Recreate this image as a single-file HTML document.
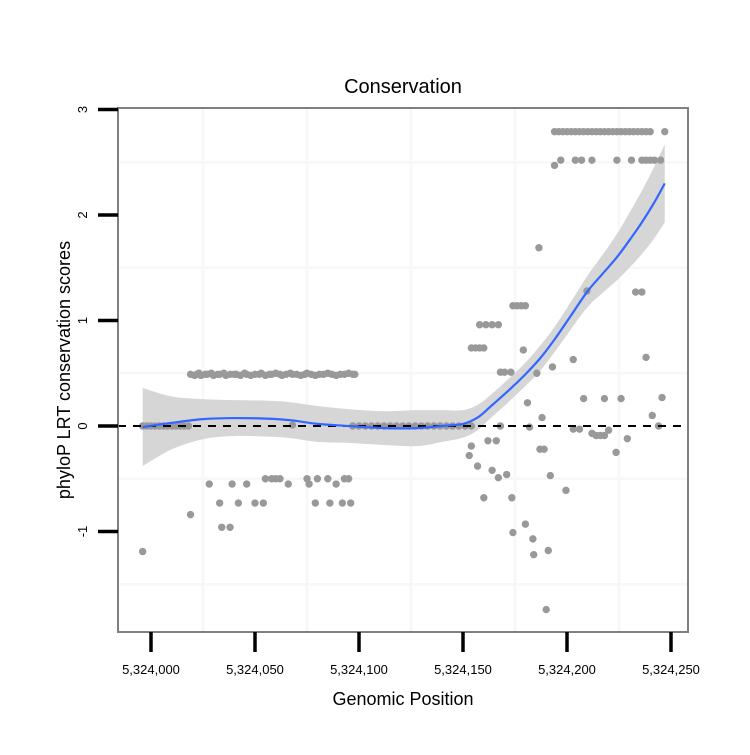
<!DOCTYPE html>
<html><head><meta charset="utf-8"><style>
body{margin:0;background:#fff}
svg text{font-family:"Liberation Sans",sans-serif}
</style></head><body>
<svg id="chart" width="750" height="750">
<rect width="750" height="750" fill="#fff"/>
<text x="403" y="93" font-size="20" text-anchor="middle">Conservation</text>
<text x="403" y="705" font-size="18" text-anchor="middle">Genomic Position</text>
<text transform="translate(70,370) rotate(-90)" font-size="18" text-anchor="middle">phyloP LRT conservation scores</text>
<g id="grid"></g><g id="band"></g><g id="pts"></g><g id="line"></g><g id="axes"></g>
</svg>
<script>
const xTicks=[5324000,5324050,5324100,5324150,5324200,5324250];
const xTickLabels=["5,324,000","5,324,050","5,324,100","5,324,150","5,324,200","5,324,250"];
const yTicks=[-1,0,1,2,3];
const yTickLabels=["-1","0","1","2","3"];
const xGrid=[5324025,5324075,5324125,5324175,5324225];
const yGrid=[-1.5,-0.5,0.5,1.5,2.5];
const ptPos=[-4,
19,21,22,23,24,26,27,29,30,32,33,35,36,38,40,41,43,45,46,48,50,52,53,55,57,58,60,62,63,65,67,68,70,72,74,75,77,79,81,83,85,87,89,91,93,95,97,98,
-4,-2,0,2,4,6,8,10,12,14,16,18,68,97,100,103,106,109,112,115,118,121,124,127,130,133,136,139,142,145,148,151,154,
28,39,46,55,58,60,62,66,75,76,80,85,89,93,95,
33,42,50,54,79,86,92,96,19,34,38,
194,196,198,200,202,204,206,208,210,212,214,216,218,220,222,224,226,228,230,232,234,236,238,240,247,
197,204,207,212,224,231,236,238,240,242,245,194,
186.5,209.6,233,236,174,176,178,180,158,161,164,167,154,156,158,160,179,203,238,168,170,173,185.5,193,
181,188,208,218,226,245.7,241,244,168,182,203,206,212,214,216,218,220,229,223.6,
154,153,162,166,157,164,167,171,187,189,192,199.5,160,173.5,180,174,183.6,184,191,190];
const ptVal=[-1.19,
0.49,0.48,0.49,0.5,0.48,0.49,0.49,0.5,0.48,0.49,0.49,0.5,0.48,0.49,0.49,0.49,0.48,0.5,0.49,0.48,0.49,0.49,0.5,0.48,0.49,0.49,0.5,0.49,0.48,0.49,0.5,0.49,0.49,0.48,0.49,0.5,0.49,0.48,0.49,0.49,0.5,0.49,0.48,0.49,0.49,0.5,0.49,0.49,
0,0,0,0,0,0,0,0,0,0,0,0,0.01,0,0,0,0,0,0,0,0,0,0,0,0,0,0,0,0,0,0,0,0,
-0.55,-0.55,-0.55,-0.5,-0.5,-0.5,-0.5,-0.55,-0.5,-0.55,-0.5,-0.5,-0.55,-0.5,-0.5,
-0.73,-0.73,-0.73,-0.73,-0.73,-0.73,-0.73,-0.73,-0.84,-0.96,-0.96,
2.79,2.79,2.79,2.79,2.79,2.79,2.79,2.79,2.79,2.79,2.79,2.79,2.79,2.79,2.79,2.79,2.79,2.79,2.79,2.79,2.79,2.79,2.79,2.79,2.79,
2.52,2.52,2.52,2.52,2.52,2.52,2.52,2.52,2.52,2.52,2.52,2.47,
1.69,1.28,1.27,1.27,1.14,1.14,1.14,1.14,0.96,0.96,0.96,0.96,0.74,0.74,0.74,0.74,0.72,0.63,0.65,0.51,0.51,0.51,0.5,0.56,
0.22,0.08,0.26,0.26,0.26,0.27,0.1,0,0,-0.01,-0.03,-0.03,-0.07,-0.09,-0.09,-0.09,-0.04,-0.12,-0.25,
-0.19,-0.28,-0.14,-0.14,-0.38,-0.42,-0.49,-0.46,-0.22,-0.22,-0.47,-0.61,-0.68,-0.68,-0.93,-1.01,-1.07,-1.22,-1.18,-1.74];
const fitPos=[-4,10,25,40,55,67,80,95,112,128,140,150,157,163,171,179,187,194,202,210,217,224,230,236,242,247];
const fitVal=[-0.01,0.03,0.065,0.075,0.07,0.055,0.02,0.0,-0.02,-0.02,0,0.02,0.08,0.18,0.32,0.47,0.64,0.82,1.05,1.28,1.44,1.6,1.76,1.93,2.12,2.3];
const fitSe=[0.37,0.25,0.19,0.17,0.17,0.17,0.17,0.16,0.16,0.17,0.15,0.13,0.12,0.11,0.11,0.11,0.12,0.12,0.13,0.15,0.18,0.22,0.26,0.3,0.34,0.37];
const X=p=>151+(p-(p>1000?5324000:0))*2.08;
const Y=v=>426-v*105.5;
const NS="http://www.w3.org/2000/svg";
function mk(parent,tag,attrs){const e=document.createElementNS(NS,tag);for(const k in attrs)e.setAttribute(k,attrs[k]);document.getElementById(parent).appendChild(e);return e;}
function smooth(pts){let d='M'+pts[0][0]+','+pts[0][1];for(let i=0;i<pts.length-1;i++){const p0=pts[i-1]||pts[i],p1=pts[i],p2=pts[i+1],p3=pts[i+2]||p2;
d+=' C'+(p1[0]+(p2[0]-p0[0])/6)+','+(p1[1]+(p2[1]-p0[1])/6)+' '+(p2[0]-(p3[0]-p1[0])/6)+','+(p2[1]-(p3[1]-p1[1])/6)+' '+p2[0]+','+p2[1];}return d;}
xGrid.forEach(g=>{const e=mk('grid','line',{x1:X(g),x2:X(g),y1:108,y2:632,stroke:'#f7f7f7','stroke-width':2.5});

});
yGrid.forEach(g=>{const e=mk('grid','line',{x1:118,x2:688,y1:Y(g),y2:Y(g),stroke:'#f7f7f7','stroke-width':2.5});

});
const upP=fitPos.map((p,i)=>[X(p),Y(fitVal[i]+fitSe[i])]);
const dnP=fitPos.map((p,i)=>[X(p),Y(fitVal[i]-fitSe[i])]).reverse();
const band=mk('band','path',{d:smooth(upP)+' L'+dnP[0][0]+','+dnP[0][1]+smooth(dnP).replace(/^M[^C]*/,' ')+' Z',fill:'#d6d6d6'});


ptPos.forEach((p,i)=>{const c=mk('pts','circle',{cx:X(p),cy:Y(ptVal[i]),r:3.7,fill:'#999'});

});
const zl=mk('line','line',{x1:118,x2:688,y1:Y(0),y2:Y(0),stroke:'#000','stroke-width':2,'stroke-dasharray':'8,7'});


const fl=mk('line','path',{d:smooth(fitPos.map((p,i)=>[X(p),Y(fitVal[i])])),fill:'none',stroke:'#3366ff','stroke-width':2.2});


const fr=mk('axes','rect',{x:118,y:108,width:570,height:524,fill:'none',stroke:'#808080','stroke-width':2});


xTicks.forEach((t,i)=>{const l=mk('axes','line',{x1:X(t),x2:X(t),y1:632,y2:652,stroke:'#000','stroke-width':3.5});


const tx=mk('axes','text',{x:X(t),y:674,'font-size':13,'text-anchor':'middle'});tx.textContent=xTickLabels[i];

});
yTicks.forEach((t,i)=>{const l=mk('axes','line',{x1:98,x2:118,y1:Y(t),y2:Y(t),stroke:'#000','stroke-width':3.5});


const tx=mk('axes','text',{transform:`translate(87,${Y(t)}) rotate(-90)`,'font-size':13,'text-anchor':'middle'});tx.textContent=yTickLabels[i];

});
</script>
</body></html>
